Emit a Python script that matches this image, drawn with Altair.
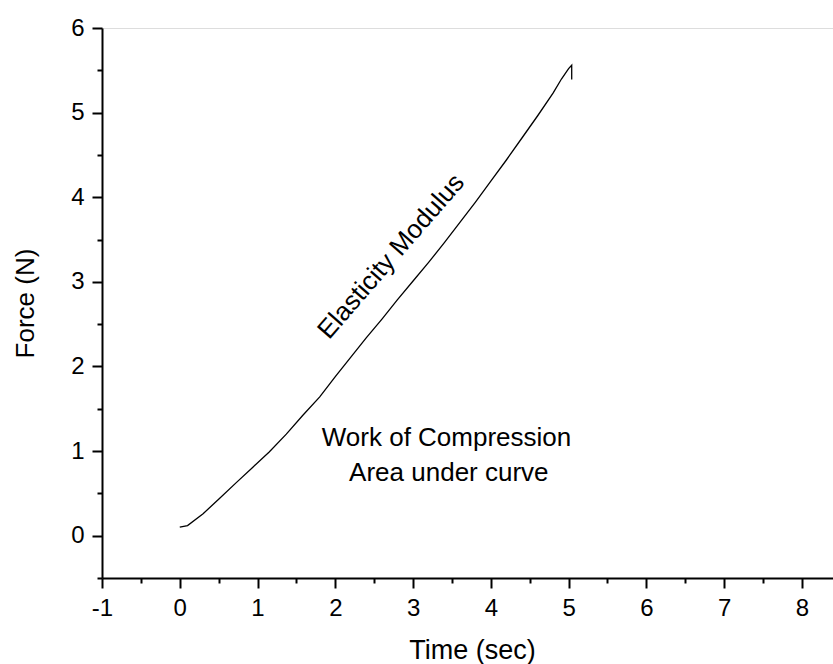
import altair as alt
import pandas as pd

# Curve
time_sec = [0.00, 0.10, 0.30, 0.50, 0.73, 0.94, 1.15, 1.37, 1.58, 1.80, 2.00, 2.20, 2.40,
            2.60, 2.80, 3.00, 3.20, 3.40, 3.60, 3.80, 4.00, 4.20, 4.40, 4.60, 4.80,
            4.91, 5.00, 5.04, 5.04]
force_n = [0.10, 0.12, 0.26, 0.43, 0.63, 0.81, 0.99, 1.20, 1.42, 1.64, 1.88, 2.11, 2.34,
           2.56, 2.79, 3.01, 3.23, 3.46, 3.70, 3.94, 4.19, 4.44, 4.70, 4.96, 5.23,
           5.40, 5.52, 5.56, 5.39]

x_ticks = [v / 2 for v in range(-2, 17)]      # -1 .. 8 step 0.5
y_ticks = [v / 2 for v in range(-1, 13)]      # -0.5 .. 6 step 0.5

FONT = "Liberation Sans"

df = pd.DataFrame({"t": time_sec, "f": force_n, "i": list(range(len(time_sec)))})

xscale = alt.Scale(domain=[-1, 8.4], nice=False, zero=False)
yscale = alt.Scale(domain=[-0.5, 6], nice=False, zero=False)

label_expr = "datum.value % 1 === 0 ? '' + datum.value : ''"

x_axis = alt.Axis(
    values=x_ticks, labelExpr=label_expr, grid=False,
    domainColor="black", domainWidth=2, tickColor="black", tickWidth=2,
    tickSize={"condition": {"test": "datum.value % 1 !== 0", "value": 5}, "value": 10},
    labelFont=FONT, labelFontSize=24, labelColor="black", labelPadding=8,
    labelFlush=False, labelOverlap=False,
    title="Time (sec)", titleFont=FONT, titleFontSize=27, titleFontWeight="normal",
    titleColor="black", titleX=370, titleY=80, titleBaseline="alphabetic",
    titleAlign="center",
)
y_axis = alt.Axis(
    values=y_ticks, labelExpr=label_expr, grid=False,
    domainColor="black", domainWidth=2, tickColor="black", tickWidth=2,
    tickSize={"condition": {"test": "datum.value % 1 !== 0", "value": 5}, "value": 10},
    labelFont=FONT, labelFontSize=24, labelColor="black", labelPadding=8,
    labelFlush=False, labelOverlap=False,
    title="Force (N)", titleFont=FONT, titleFontSize=26, titleFontWeight="normal",
    titleColor="black", titleAngle=270, titleX=-69, titleY=275,
    titleBaseline="alphabetic", titleAlign="center",
)

line = alt.Chart(df).mark_line(color="black", strokeWidth=1.3, clip=True).encode(
    x=alt.X("t:Q", scale=xscale, axis=x_axis),
    y=alt.Y("f:Q", scale=yscale, axis=y_axis),
    order="i:Q",
)

ann_text = ["Work of Compression", "Area under curve"]
ann_x = [3.43, 3.46]
ann_y = [1.065, 0.651]
ann = pd.DataFrame({"x": ann_x, "y": ann_y, "text": ann_text})
notes = alt.Chart(ann).mark_text(
    font=FONT, fontSize=26, color="black", align="center", baseline="alphabetic"
).encode(x=alt.X("x:Q", scale=xscale), y=alt.Y("y:Q", scale=yscale), text="text:N")

rot = pd.DataFrame({"x": [2.72], "y": [3.30], "text": ["Elasticity Modulus"]})
rot_text = alt.Chart(rot).mark_text(
    font=FONT, fontSize=26, color="black", align="center", baseline="middle", angle=311
).encode(x=alt.X("x:Q", scale=xscale), y=alt.Y("y:Q", scale=yscale), text="text:N")

chart = alt.layer(line, notes, rot_text).properties(
    width=731, height=550,
    padding={"left": 102, "top": 28, "right": 0, "bottom": 86},
    autosize=alt.AutoSizeParams(type="none"),
).configure_view(stroke=None).configure(background="white")

chart.save("out.html", embed_options={"renderer": "svg", "actions": False})
